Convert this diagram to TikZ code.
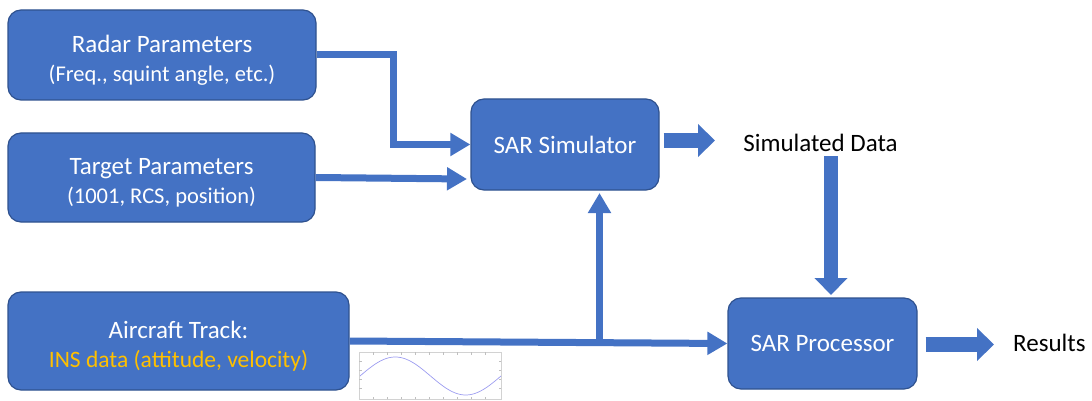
\documentclass[tikz,border=0pt]{standalone}
\usepackage{fontspec}
\setmainfont{Carlito}
\usetikzlibrary{arrows.meta,calc}
\definecolor{boxblue}{HTML}{4472C4}
\definecolor{boxedge}{HTML}{2F528F}
\definecolor{insgold}{HTML}{FFC000}
\definecolor{wave}{HTML}{9C9CF0}
\newcommand{\lowstrut}{\rule{0pt}{27pt}}
\begin{document}
\begin{tikzpicture}[x=1pt,y=-1pt,
  block/.style={draw=boxedge, line width=1.2pt, fill=boxblue, rounded corners=13pt,
    text=white, align=center, inner sep=0pt, font=\fontsize{25}{29}\selectfont},
  flow/.style={draw=boxblue, line width=7pt, line join=miter,
    -{Triangle[length=20pt,width=22pt]}},
  fat/.style={draw=boxblue, line width=14.5pt,
    -{Triangle[length=17pt,width=32pt]}},
  plain/.style={text=black, inner sep=0pt, font=\fontsize{25}{30}\selectfont}]
\useasboundingbox (0,0) rectangle (1092,401);

% input blocks
\node[block, minimum width=308pt, minimum height=90pt] (radar) at (162,55)
  {\lowstrut Radar Parameters\\
   \fontsize{22.5}{29}\selectfont (Freq., squint angle, etc.)};
\node[block, minimum width=307pt, minimum height=89pt] (target) at (161.5,177.5)
  {\lowstrut Target Parameters\\
   \fontsize{22.5}{29}\selectfont (1001, RCS, position)};
\node[block, minimum width=341pt, minimum height=98pt] (air) at (178.5,341)
  {\lowstrut Aircraft Track:\\
   \fontsize{23.5}{29}\selectfont\color{insgold}INS data (attitude, velocity)};

% processing blocks
\node[block, minimum width=188pt, minimum height=91pt] (sim) at (565,144.5) {SAR Simulator};
\node[block, minimum width=189pt, minimum height=91pt] (proc) at (822.5,343.5) {SAR Processor};

% output labels
\node[plain, anchor=base] (simdata) at (820.5,151) {Simulated Data};
\node[plain, anchor=base west] (results) at (1013,351) {Results};

% connector end points
\coordinate (tin) at (467,179);
\coordinate (junc) at (599.5,342);
\coordinate (upin) at (599.5,193);
\coordinate (simout) at (715,140.5);
\coordinate (downtop) at (831,156);
\coordinate (downin) at (831,295);
\coordinate (resout) at (994,344.5);

% connectors
\draw[flow] (radar.east) -| ($(sim.west)+(-77,0)$) -- (sim.west);
\draw[flow] (target.east) -- (tin);
\draw[flow] (air.east) -- (proc.west);
\draw[flow] (junc) -- (upin);
\draw[fat] ($(sim.east)+(4,-4)$) -- (simout);
\draw[fat] (downtop) -- (downin);
\draw[fat] ($(proc.east)+(8,1)$) -- (resout);

% small INS trace plot
\draw[gray!35, line width=0.8pt] (359,352) rectangle (501,399);
\foreach \t in {373,387,...,490} {
  \draw[gray!50, line width=0.5pt] (\t,352) -- (\t,354.5);
  \draw[gray!50, line width=0.5pt] (\t,399) -- (\t,396.5);
}
\foreach \t in {361,370,...,396} {
  \draw[gray!50, line width=0.5pt] (359,\t) -- (361.5,\t);
  \draw[gray!50, line width=0.5pt] (501,\t) -- (498.5,\t);
}
\draw[wave, line width=0.7pt] plot[domain=0:141, samples=80, smooth]
  ({360+\x},{376-19*sin(\x/141*360)});
\end{tikzpicture}
\end{document}
